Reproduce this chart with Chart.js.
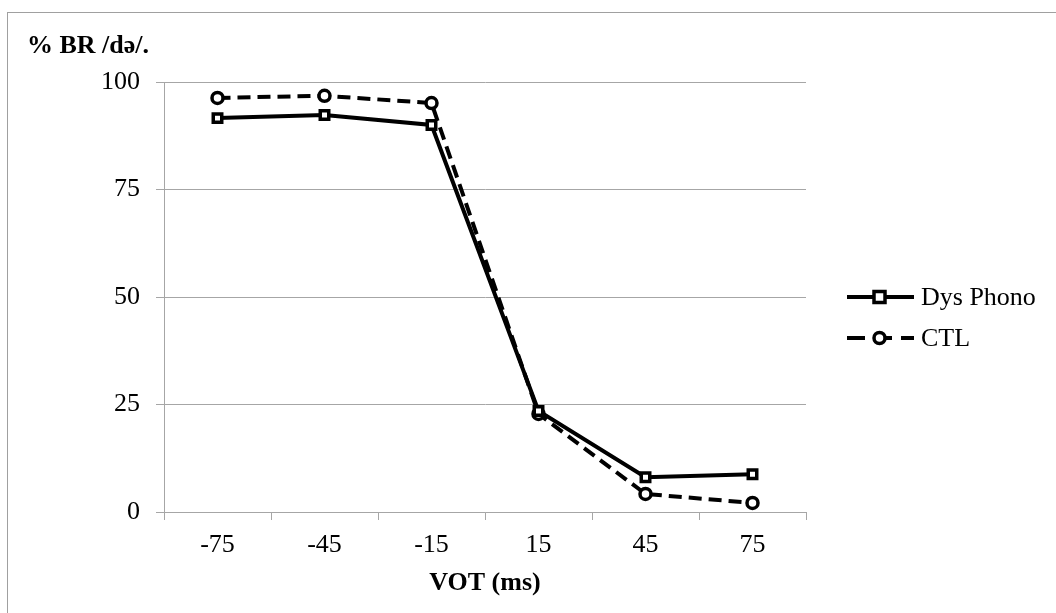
<!DOCTYPE html>
<html lang="en">
<head>
    <meta charset="UTF-8">
    <title>VOT identification</title>
    <script src="https://cdn.jsdelivr.net/npm/chart.js"></script>
    <style>
        html, body {
            margin: 0;
            width: 1056px;
            height: 613px;
            overflow: hidden;
            background: #ffffff;
        }
        .frame {
            position: absolute;
            left: 7px;
            top: 12px;
            width: 1100px;
            height: 700px;
            border: 1px solid #a0a0a0;
        }
        .chart-box {
            position: absolute;
            left: 0;
            top: 0;
            width: 1056px;
            height: 613px;
        }
    </style>
</head>
<body>
    <div class="frame"></div>
    <div class="chart-box">
        <canvas id="votChart"></canvas>
    </div>

    <script>
        // values
        const votLabels = ['-75', '-45', '-15', '15', '45', '75'];
        const dysPhono = [91.6, 92.3, 90.0, 23.5, 8.1, 8.8];
        const ctl = [96.3, 96.8, 95.1, 22.8, 4.2, 2.1];
        const yTicks = [0, 25, 50, 75, 100];

        const serif = "'Liberation Serif', 'Times New Roman', serif";
        const gridGray = '#a6a6a6';

        // legend drawn as line + marker, like the original
        const sideLegend = {
            id: 'sideLegend',
            afterDraw(chart) {
                const c = chart.ctx;
                const rows = [
                    { text: 'Dys Phono', y: 297, dash: [], style: 'rect' },
                    { text: 'CTL', y: 338, dash: [18, 9], style: 'circle' }
                ];
                c.save();
                rows.forEach(r => {
                    c.strokeStyle = '#000';
                    c.lineWidth = 4;
                    c.setLineDash(r.dash);
                    c.beginPath();
                    c.moveTo(847, r.y);
                    c.lineTo(914, r.y);
                    c.stroke();
                    c.setLineDash([]);
                    c.fillStyle = '#fff';
                    c.lineWidth = 3.5;
                    if (r.style === 'rect') {
                        c.fillRect(874, r.y - 5.5, 11, 11);
                        c.strokeRect(874, r.y - 5.5, 11, 11);
                    } else {
                        c.beginPath();
                        c.arc(879.5, r.y, 5.5, 0, Math.PI * 2);
                        c.fill();
                        c.stroke();
                    }
                    c.fillStyle = '#000';
                    c.font = '26px ' + serif;
                    c.textBaseline = 'middle';
                    c.textAlign = 'left';
                    c.fillText(r.text, 921, r.y + 1);
                });
                // y axis title, set horizontally above the axis
                c.font = 'bold 26px ' + serif;
                c.textBaseline = 'middle';
                c.fillText('% BR /də/.', 27, 46);
                c.restore();
            }
        };

        const ctx = document.getElementById('votChart').getContext('2d');
        const votChart = new Chart(ctx, {
            type: 'line',
            data: {
                labels: votLabels,
                datasets: [{
                    label: 'Dys Phono',
                    data: dysPhono,
                    borderColor: '#000',
                    borderWidth: 4,
                    pointStyle: 'rect',
                    pointRadius: 6,
                    pointBorderWidth: 3.5,
                    pointBackgroundColor: '#fff',
                    pointBorderColor: '#000',
                    tension: 0
                }, {
                    label: 'CTL',
                    data: ctl,
                    borderColor: '#000',
                    borderWidth: 4,
                    borderDash: [13, 7],
                    pointStyle: 'circle',
                    pointRadius: 5.5,
                    pointBorderWidth: 3.5,
                    pointBackgroundColor: '#fff',
                    pointBorderColor: '#000',
                    tension: 0
                }]
            },
            options: {
                responsive: true,
                maintainAspectRatio: false,
                animation: false,
                layout: {
                    padding: { left: 0, top: 82, right: 250, bottom: 0 }
                },
                plugins: {
                    legend: { display: false },
                    tooltip: { enabled: false }
                },
                scales: {
                    x: {
                        offset: true,
                        grid: {
                            offset: true,
                            drawOnChartArea: false,
                            color: gridGray,
                            tickLength: 8
                        },
                        border: { color: gridGray, width: 1 },
                        ticks: {
                            color: '#000',
                            font: { family: serif, size: 26 },
                            padding: 10,
                            maxRotation: 0
                        },
                        title: {
                            display: true,
                            text: 'VOT (ms)',
                            color: '#000',
                            font: { family: serif, size: 26, weight: 'bold' },
                            padding: { top: 4, bottom: 14 }
                        },
                        afterFit(scale) { scale.height = 101; }
                    },
                    y: {
                        min: 0,
                        max: 100,
                        afterBuildTicks(scale) {
                            scale.ticks = yTicks.map(v => ({ value: v }));
                        },
                        grid: {
                            color: gridGray,
                            tickLength: 8
                        },
                        border: { color: gridGray, width: 1 },
                        ticks: {
                            color: '#000',
                            font: { family: serif, size: 26 },
                            padding: 16
                        },
                        afterFit(scale) { scale.width = 164; }
                    }
                }
            },
            plugins: [sideLegend]
        });
    </script>
</body>
</html>
